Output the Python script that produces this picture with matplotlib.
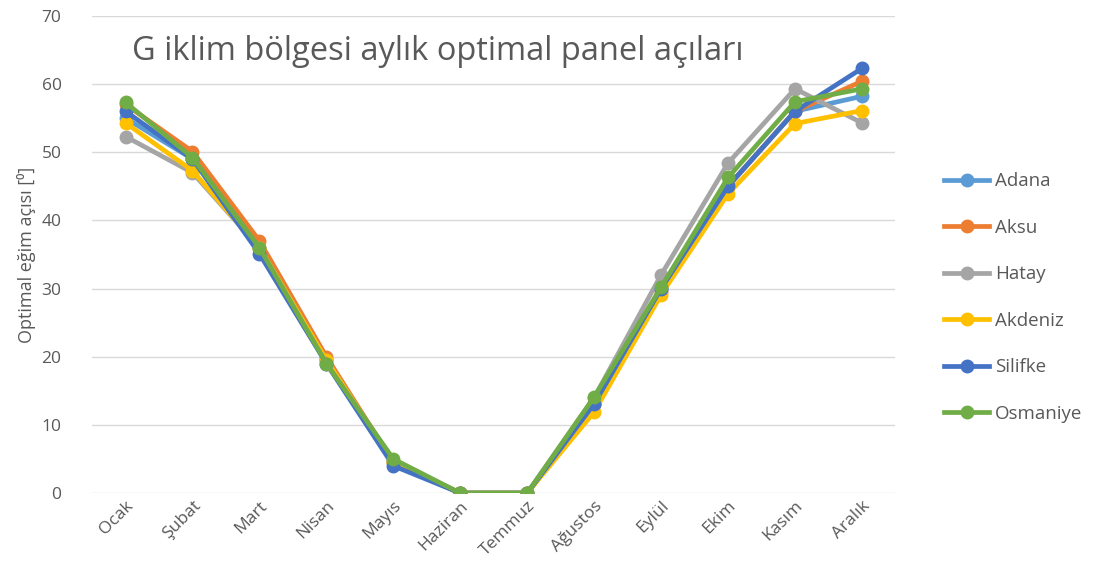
import matplotlib.pyplot as plt

plt.rcParams['font.family'] = ['Open Sans', 'DejaVu Sans']

# Aylar ve istasyonlara göre optimal panel açıları
aylar = ['Ocak', 'Şubat', 'Mart', 'Nisan', 'Mayıs', 'Haziran', 'Temmuz',
         'Ağustos', 'Eylül', 'Ekim', 'Kasım', 'Aralık']
adana = [55, 49, 36, 19.5, 4.5, 0, 0, 13, 30, 45, 56, 58.2]
aksu = [57, 50.1, 37, 20, 4.5, 0, 0, 13, 29.5, 45, 56, 60.4]
hatay = [52.3, 47, 36, 19.5, 4.5, 0, 0, 14, 32, 48.4, 59.3, 54.3]
akdeniz = [54.3, 47.3, 36, 19.5, 4.5, 0, 0, 11.9, 29.1, 43.9, 54.2, 56.1]
silifke = [56, 49, 35.1, 19, 4, 0, 0, 13.1, 30, 45, 56, 62.3]
osmaniye = [57.3, 49.2, 36, 19, 5, 0, 0, 14.1, 30.2, 46.3, 57.4, 59.3]

seriler = [('Adana', adana, '#5B9BD5'), ('Aksu', aksu, '#ED7D31'),
           ('Hatay', hatay, '#A5A5A5'), ('Akdeniz', akdeniz, '#FFC000'),
           ('Silifke', silifke, '#4472C4'), ('Osmaniye', osmaniye, '#70AD47')]

fig = plt.figure(figsize=(10.96, 5.87), dpi=100)
ax = fig.add_axes([0.084, 0.160, 0.733, 0.813])

for ad, deger, renk in seriler:
    ax.plot(aylar, deger, marker='o', color=renk, linewidth=3.4, markersize=9, label=ad)

ax.set_ylim(0, 70)
ax.set_xlim(-0.5, 11.5)
ax.set_yticks(range(0, 71, 10))
ax.grid(axis='y', color='#D9D9D9', linewidth=1)
ax.set_axisbelow(True)
for s in ax.spines.values():
    s.set_visible(False)
ax.tick_params(length=0, colors='#595959', labelsize=12.5)
ax.tick_params(axis='y', pad=22)
plt.setp(ax.get_xticklabels(), rotation=45, ha='right', rotation_mode='anchor')

ax.set_ylabel('Optimal eğim açısı [⁰]', fontsize=13, color='#595959')
ax.text(0.05, 0.925, 'G iklim bölgesi aylık optimal panel açıları', transform=ax.transAxes,
        fontsize=23.5, color='#595959', va='center')

ax.legend(loc='center left', bbox_to_anchor=(1.04, 0.41), frameon=False, fontsize=13.5,
          labelcolor='#595959', labelspacing=1.52, handlelength=2.4, handletextpad=0.3)

plt.savefig('out.png', dpi=100)
